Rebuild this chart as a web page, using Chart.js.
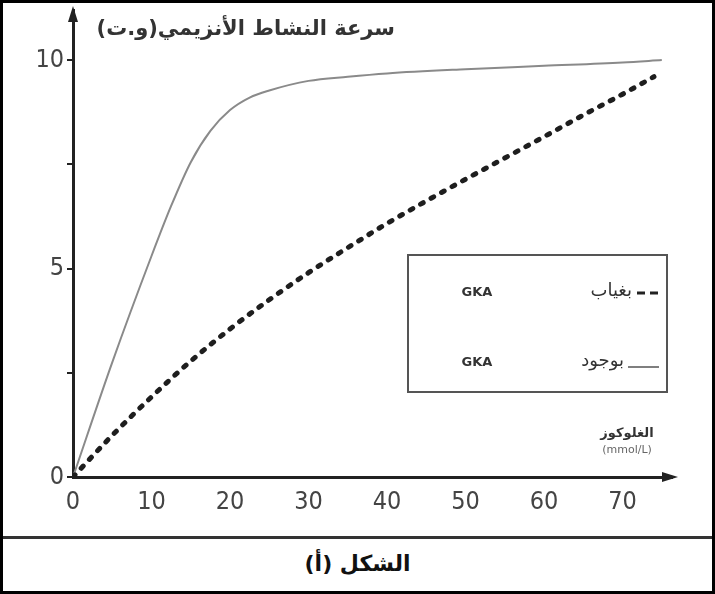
<!DOCTYPE html>
<html>
<head>
<meta charset="utf-8">
<script src="https://cdn.jsdelivr.net/npm/chart.js@4.4.1/dist/chart.umd.min.js"></script>
<style>
  html, body { margin: 0; padding: 0; background: #fff; }
  #frame { position: relative; width: 715px; height: 594px; box-sizing: border-box; border: 3px solid #000; overflow: hidden; }
  #plot { position: absolute; left: -3px; top: -3px; width: 715px; height: 535px; }
  #sep { position: absolute; left: 0; right: 0; top: 533px; height: 3px; background: #333; }
  #caption { position: absolute; left: 0; right: 0; top: 548px; line-height: 30px; text-align: center; font: bold 22px "DejaVu Sans"; color: #111; direction: rtl; }
</style>
</head>
<body>
<div id="frame">
  <div id="plot"><canvas id="chart"></canvas></div>
  <div id="sep"></div>
  <div id="caption">الشكل (أ)</div>
</div>
<script>
// glucose concentration (mmol/L) vs enzyme activity rate
const glucoseWith = [0, 5, 10, 12.5, 15, 17.5, 20, 22.5, 25, 30, 35, 40, 50, 60, 70, 75];
const rateWith = [0, 2.75, 5.3, 6.5, 7.55, 8.3, 8.8, 9.1, 9.27, 9.5, 9.6, 9.68, 9.78, 9.86, 9.94, 10];

const glucoseWithout = [0, 5, 10, 15, 20, 25, 30, 35, 40, 45, 50, 55, 60, 65, 70, 74];
const rateWithout = [0, 1.0, 1.92, 2.78, 3.55, 4.25, 4.9, 5.5, 6.08, 6.62, 7.14, 7.65, 8.16, 8.68, 9.18, 9.6];

const xTicks = [0, 10, 20, 30, 40, 50, 60, 70];
const yTicks = [0, 2.5, 5, 7.5, 10];
const yLabelled = [0, 5, 10];

const yTitle = "سرعة النشاط الأنزيمي(و.ت)";
const xTitle = "الغلوكوز";
const xUnit = "(mmol/L)";
const legendWords = ["بغياب", "بوجود"];
const legendTag = "GKA";

const pts = (xs, ys) => xs.map((v, i) => ({ x: v, y: ys[i] }));

// axis arrows, titles and the boxed legend
const overlay = {
  id: "overlay",
  afterDraw(chart) {
    const { ctx, chartArea: a } = chart;
    ctx.save();

    // arrow heads
    ctx.fillStyle = "#222";
    ctx.beginPath();
    ctx.moveTo(a.left, a.top - 4);
    ctx.lineTo(a.left - 5, a.top + 12);
    ctx.lineTo(a.left + 5, a.top + 12);
    ctx.closePath();
    ctx.fill();
    ctx.beginPath();
    ctx.moveTo(a.right + 6, a.bottom);
    ctx.lineTo(a.right - 10, a.bottom - 5);
    ctx.lineTo(a.right - 10, a.bottom + 5);
    ctx.closePath();
    ctx.fill();

    // y title
    ctx.fillStyle = "#333";
    ctx.direction = "rtl";
    ctx.textAlign = "right";
    ctx.textBaseline = "middle";
    ctx.font = "bold 21px 'DejaVu Sans'";
    ctx.fillText(yTitle, a.left + 322, a.top + 20);

    // x title
    ctx.direction = "ltr";
    ctx.textAlign = "center";
    ctx.font = "bold 13px 'DejaVu Sans'";
    ctx.fillText(xTitle, a.right - 45, a.bottom - 43);
    ctx.font = "11px 'DejaVu Sans'";
    ctx.fillStyle = "#666";
    ctx.fillText(xUnit, a.right - 45, a.bottom - 27);

    // legend box
    const bx = a.right - 264, by = a.top + 245, bw = 259, bh = 137;
    ctx.strokeStyle = "#555";
    ctx.lineWidth = 2;
    ctx.strokeRect(bx, by, bw, bh);

    chart.data.datasets.forEach((ds, i) => {
      const ry = by + 38 + i * 70;
      ctx.strokeStyle = "#222";
      if (ds.borderDash && ds.borderDash.length) {
        ctx.lineWidth = 3;
        ctx.setLineDash([8, 5]);
        ctx.beginPath();
        ctx.moveTo(bx + 229, ry);
        ctx.lineTo(bx + 251, ry);
        ctx.stroke();
        ctx.setLineDash([]);
      } else {
        ctx.lineWidth = 1.5;
        ctx.strokeStyle = "#555";
        ctx.beginPath();
        ctx.moveTo(bx + 220, ry + 4);
        ctx.lineTo(bx + 251, ry + 4);
        ctx.stroke();
      }
      ctx.fillStyle = "#333";
      ctx.direction = "rtl";
      ctx.textAlign = "right";
      ctx.font = "18px 'DejaVu Sans'";
      ctx.fillText(legendWords[i], bx + (i === 0 ? 224 : 216), ry - 2);
      ctx.direction = "ltr";
      ctx.textAlign = "center";
      ctx.font = "bold 13px 'DejaVu Sans'";
      ctx.fillText(legendTag, bx + 69, ry);
    });

    ctx.restore();
  }
};

const tickFont = { family: "'DejaVu Sans Condensed', 'DejaVu Sans', sans-serif", size: 25 };

new Chart(document.getElementById("chart"), {
  type: "line",
  data: {
    datasets: [
      {
        label: legendWords[0] + " " + legendTag,
        data: pts(glucoseWithout, rateWithout),
        borderColor: "#1e1e1e",
        borderWidth: 5,
        borderDash: [3, 9],
        borderCapStyle: "round",
        pointRadius: 0,
        cubicInterpolationMode: "monotone",
        fill: false,
      },
      {
        label: legendWords[1] + " " + legendTag,
        data: pts(glucoseWith, rateWith),
        borderColor: "#8a8a8a",
        borderWidth: 2,
        pointRadius: 0,
        cubicInterpolationMode: "monotone",
        fill: false,
      },
    ],
  },
  options: {
    responsive: true,
    maintainAspectRatio: false,
    animation: false,
    layout: { padding: { left: 0, top: 10, right: 43, bottom: 18 } },
    plugins: { legend: { display: false }, tooltip: { enabled: false } },
    scales: {
      x: {
        type: "linear",
        min: 0,
        max: 76.3,
        afterBuildTicks: (s) => { s.ticks = xTicks.map((v) => ({ value: v })); },
        afterFit: (s) => { s.height = 40; s.paddingLeft = 0; s.paddingRight = 0; },
        ticks: { font: tickFont, color: "#444", padding: 2, maxRotation: 0 },
        grid: { display: false },
        border: { display: true, color: "#222", width: 3 },
      },
      y: {
        type: "linear",
        min: 0,
        max: 11.2,
        afterBuildTicks: (s) => { s.ticks = yTicks.map((v) => ({ value: v })); },
        afterFit: (s) => { s.width = 73; s.paddingTop = 0; s.paddingBottom = 0; },
        ticks: {
          font: tickFont,
          color: "#444",
          padding: 3,
          callback: (v) => (yLabelled.includes(v) ? String(v) : ""),
        },
        grid: { drawOnChartArea: false, drawTicks: true, tickLength: 6, color: "#222", lineWidth: 2 },
        border: { display: true, color: "#222", width: 3 },
      },
    },
  },
  plugins: [overlay],
});
</script>
</body>
</html>
